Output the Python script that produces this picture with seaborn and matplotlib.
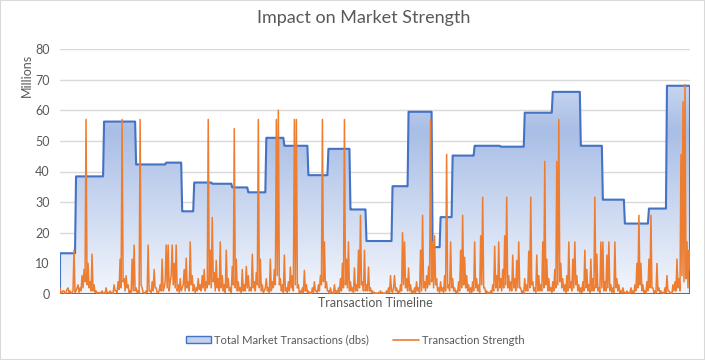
import numpy as np
import pandas as pd
import seaborn as sns
import matplotlib.pyplot as plt
from matplotlib.colors import LinearSegmentedColormap
from matplotlib.patches import Patch, Rectangle
from matplotlib.lines import Line2D

# Data (millions)
# market total: step levels and how many transactions each level lasts
seg_levels = [13.3, 38.4, 56.3, 42.3, 42.9, 27.0, 36.4, 36.0, 34.8, 33.2,
              51.0, 48.4, 38.8, 47.4, 27.6, 17.3, 35.2, 59.5, 15.3, 25.1,
              45.2, 48.4, 48.1, 59.2, 66.0, 48.4, 30.8, 23.0, 27.9, 68.0]
seg_lengths = [16, 28, 32, 30, 16, 12, 18, 20, 16, 18,
               18, 24, 20, 22, 16, 26, 16, 24, 8, 12,
               22, 26, 24, 28, 28, 22, 22, 24, 18, 24]

strength = [
    2, 0.3, 0.5, 1, 1, 0.2, 0.5, 1.5, 2, 0.4, 1, 0.3, 0.5, 1, 14.3, 0.5, 1, 2, 3, 0.5,
    2, 1, 6, 2, 8, 4, 57, 3, 10, 2, 4, 1, 13, 1, 3, 0.5, 1, 0.2, 0.5, 0.3,
    0.5, 0.2, 1, 0.3, 0.3, 0.2, 2, 0.5, 0.5, 0.2, 1, 0.4, 0.5, 0.2, 3, 1, 1, 0.5, 4, 1.5,
    11.4, 2, 57, 4, 5, 1, 6, 2, 3, 0.5, 1, 0.3, 11.4, 1, 16, 1, 2, 0.5, 1, 0.3,
    57, 3, 2, 0.5, 0.5, 0.2, 1, 0.5, 16, 1, 1, 0.4, 4, 1, 8, 2, 2, 0.5, 0.5, 1,
    3, 1, 11.4, 1, 2, 4, 16, 2, 16, 1, 4, 6, 16, 3, 10, 2, 16, 1, 3, 0.5,
    5, 1, 2, 3, 8, 1, 11.7, 2, 4, 1, 17, 3, 6, 1, 3, 0.5, 2, 1, 5, 1.5,
    3, 1, 6, 2, 8, 1, 4, 2, 57, 3, 14.3, 2, 25, 4, 7, 1, 11, 2, 5, 1,
    17, 2, 6, 1, 3, 0.5, 14.3, 2, 5, 1, 2, 0.5, 9, 3, 54, 2, 11.4, 1, 4, 1,
    2, 0.5, 8, 1, 3, 1, 9, 2, 6, 1, 2, 1, 13, 2, 4, 1, 7, 3, 57, 2,
    11.4, 1, 3, 0.5, 1, 2, 5, 1, 2, 0.5, 11.4, 1, 4, 2, 8, 3, 57, 6, 60, 3,
    5, 1, 3, 0.5, 12.7, 1, 2, 0.5, 4, 1, 8.8, 2, 6, 1, 57, 3, 57, 2, 3, 0.5,
    1, 0.3, 2, 0.5, 7.7, 1, 3, 0.5, 1, 0.3, 0.5, 0.2, 2, 0.5, 4, 1, 1, 0.5, 3, 1,
    6, 3, 57, 4, 17, 2, 4, 1, 1, 0.3, 2, 0.5, 0.5, 0.2, 3, 0.5, 1, 0.3, 2, 0.5,
    5, 1, 10, 2, 57, 3, 11.4, 2, 17, 1, 4, 1, 2, 0.5, 8.5, 1, 3, 1, 14.3, 2,
    25.7, 3, 4, 1, 14.3, 1, 3, 1, 8.8, 1, 2, 0.5, 1, 0.3, 0.5, 0.2, 0.3, 0.2, 0.5, 0.2,
    1, 0.2, 0.5, 0.2, 0.3, 0.2, 1, 0.3, 2, 0.5, 6, 1, 0.5, 2, 6, 1, 2, 0.5, 1, 0.3,
    3, 1, 20, 3, 17, 2, 5, 1, 8.5, 1, 3, 0.5, 1, 0.3, 2, 0.5, 4, 1, 2, 0.5,
    14.3, 1, 25.7, 2, 4, 1, 6, 2, 9, 3, 57, 4, 17, 2, 19, 3, 5, 1, 2, 0.5,
    4, 1, 2, 0.5, 6, 1, 45.6, 2, 3, 1, 17, 2, 5, 1, 2, 0.5, 1, 0.3, 4, 1,
    14.3, 2, 25.7, 3, 12, 2, 6, 1, 3, 0.5, 2, 0.5, 4, 1, 17, 2, 5, 1, 3, 0.5,
    19, 3, 31.6, 2, 2, 0.5, 1, 0.3, 0.5, 0.2, 1, 0.3, 3, 1, 15.6, 2, 6, 1, 17, 2,
    5, 1, 8, 2, 19, 3, 31.6, 2, 6, 1, 4, 1, 12.7, 2, 5, 1, 11, 2, 17, 2,
    2, 0.5, 1, 0.3, 5, 1, 3, 1, 14, 2, 31.6, 3, 4, 1, 2, 0.5, 12.7, 1, 6, 1,
    3, 1, 17, 2, 43.3, 3, 11.4, 1, 5, 1, 2, 0.5, 4, 1, 8, 2, 43.3, 3, 57, 4,
    10, 2, 5, 1, 3, 0.5, 6, 1, 17, 2, 4, 1, 11.4, 2, 17, 3, 6, 1, 3, 0.5,
    2, 0.5, 4, 1, 14.3, 2, 8, 1, 3, 0.5, 11.4, 1, 5, 1, 31.6, 2, 13, 1, 2, 0.5,
    17, 2, 17, 1, 4, 1, 12.7, 2, 17, 1, 3, 0.5, 2, 0.5, 17, 2, 5, 1, 3, 0.5,
    1, 0.3, 2, 0.5, 0.5, 0.2, 1, 0.3, 0.5, 0.2, 2, 0.5, 1, 0.3, 3, 1, 10, 2, 25.7, 3,
    10, 1, 3, 0.5, 1, 0.3, 4, 1, 11.4, 2, 25.7, 2, 2, 0.5, 1, 0.3, 10, 1, 2, 0.5,
    1, 0.3, 0.5, 0.2, 2, 0.5, 6, 1, 1, 0.3, 0.5, 0.2, 3, 1, 4, 1, 11.4, 2, 5, 1,
    45.6, 6, 62.8, 4, 68.4, 5, 17, 2, 14.3, 8,
]

y_ticks = [0, 10, 20, 30, 40, 50, 60, 70, 80]

market = np.repeat(seg_levels, seg_lengths)
df = pd.DataFrame({'t': np.arange(len(market)), 'market': market, 'strength': strength})

sns.set_theme(style='white')
plt.rcParams['font.family'] = ['Lato', 'DejaVu Sans']
txt = '#595959'

fig = plt.figure(figsize=(7.05, 3.6), dpi=100)
ax = fig.add_axes([60 / 705, 1 - 294 / 360, 630 / 705, 245 / 360])

# gradient filled area
poly = ax.fill_between(df['t'], df['market'], 0, facecolor='none', edgecolor='none', zorder=1)
cmap = LinearSegmentedColormap.from_list(
    'fill', [(0, '#f3f6fc'), (0.78, '#a9bee6'), (1, '#c7d5ef')])
grad = np.linspace(0, 1, 256).reshape(-1, 1)
img = ax.imshow(grad, cmap=cmap, origin='lower', aspect='auto',
                extent=[df['t'].min(), df['t'].max(), 0, df['market'].max()], zorder=2)
img.set_clip_path(poly.get_paths()[0], transform=ax.transData)
ax.fill_between(df['t'], df['market'], 0, facecolor='none', edgecolor='#4472c4',
                linewidth=1.5, zorder=3)

sns.lineplot(data=df, x='t', y='strength', color='#ed7d31', linewidth=1.1, ax=ax, zorder=4)

ax.set_xlim(df['t'].min(), df['t'].max())
ax.set_ylim(0, 80)
ax.set_yticks(y_ticks)
ax.set_xticks([])
ax.yaxis.grid(True, color='#d9d9d9', linewidth=1)
ax.set_axisbelow(True)
for s in ax.spines.values():
    s.set_visible(False)
ax.tick_params(axis='y', length=0, pad=7.5, labelsize=9, labelcolor=txt)
ax.set_xlabel('Transaction Timeline', fontsize=9, color=txt, labelpad=2)
ax.set_ylabel('')
fig.text(27 / 705, 1 - 75 / 360, 'Millions', rotation=90, ha='center', va='center',
         fontsize=9, color=txt)

fig.suptitle('Impact on Market Strength', x=364 / 705, y=1 - 18 / 360, va='center',
             fontsize=13, color=txt)

handles = [Patch(facecolor='#c3d1ed', edgecolor='#4472c4', linewidth=1),
           Line2D([0], [0], color='#ed7d31', linewidth=1.2)]
fig.legend(handles, ['Total Market Transactions (dbs)', 'Transaction Strength'],
           loc='center', bbox_to_anchor=(355 / 705, 1 - 340 / 360), ncol=2,
           frameon=False, fontsize=8, labelcolor=txt, handlelength=2.3,
           handleheight=0.6, columnspacing=2.2, handletextpad=0.25)

fig.patches.append(Rectangle((0, 0), 1, 1, transform=fig.transFigure, fill=False,
                             edgecolor='#d9d9d9', linewidth=1.5))

fig.savefig('out.png', dpi=100)
